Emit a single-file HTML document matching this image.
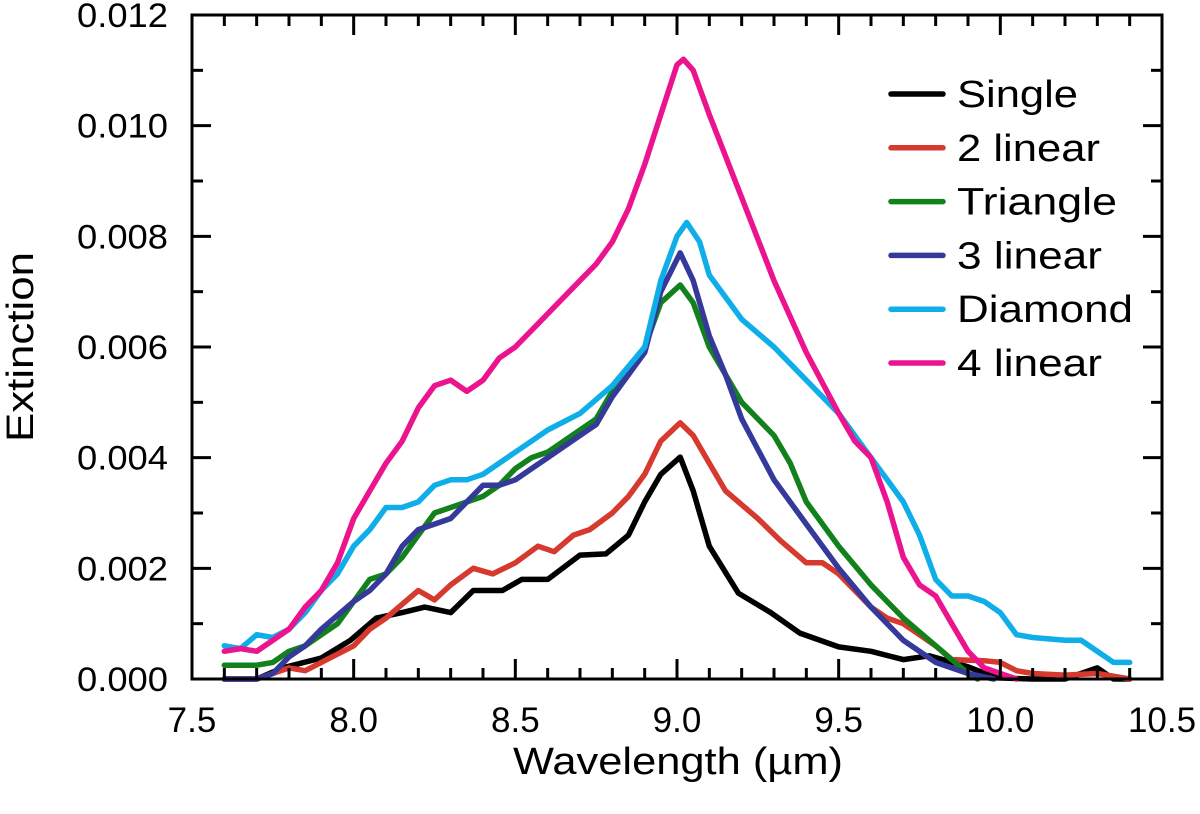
<!DOCTYPE html>
<html><head><meta charset="utf-8"><style>
html,body{margin:0;padding:0;background:#fff;}
svg{display:block;font-family:"Liberation Sans",Arial,sans-serif;}
</style></head><body>
<svg id="chart" width="1200" height="814" viewBox="0 0 1200 814" xmlns="http://www.w3.org/2000/svg">
<g id="plot"></g>
</svg>
<script>
const xTicks=[7.5,8.0,8.5,9.0,9.5,10.0,10.5];
const xTickLabels=["7.5","8.0","8.5","9.0","9.5","10.0","10.5"];
const yTicks=[0,0.002,0.004,0.006,0.008,0.010,0.012];
const yTickLabels=["0.000","0.002","0.004","0.006","0.008","0.010","0.012"];
const seriesNames=["Single","2 linear","Triangle","3 linear","Diamond","4 linear"];
const seriesColors=["#000000","#d63a2f","#12811c","#35399a","#10aee8","#ec138e"];
const singleX=[7.6,7.7,7.78,7.9,7.99,8.07,8.15,8.22,8.3,8.37,8.46,8.52,8.6,8.7,8.78,8.85,8.9,8.95,9.01,9.05,9.1,9.19,9.29,9.38,9.5,9.6,9.7,9.78,9.9,9.99,10.1,10.2,10.3,10.35,10.4];
const singleY=[0,0,0.0002,0.00038,0.0007,0.0011,0.0012,0.0013,0.0012,0.0016,0.0016,0.0018,0.0018,0.00224,0.00226,0.0026,0.0032,0.0037,0.00401,0.0034,0.0024,0.00155,0.0012,0.00083,0.00058,0.0005,0.00035,0.00042,0.00022,0.00002,0,0,0.0002,0,0];
const linear2X=[7.6,7.7,7.8,7.85,7.9,8.0,8.05,8.1,8.2,8.25,8.3,8.37,8.43,8.5,8.57,8.62,8.68,8.73,8.8,8.85,8.9,8.95,9.01,9.05,9.1,9.15,9.25,9.32,9.4,9.45,9.5,9.6,9.65,9.7,9.8,9.85,9.95,10.0,10.05,10.1,10.2,10.3,10.4];
const linear2Y=[0,0,0.0002,0.00015,0.0003,0.0006,0.0009,0.0011,0.0016,0.00143,0.0017,0.002,0.0019,0.0021,0.0024,0.0023,0.0026,0.0027,0.003,0.0033,0.0037,0.0043,0.00463,0.0044,0.0039,0.0034,0.0029,0.0025,0.0021,0.0021,0.0019,0.0013,0.0011,0.001,0.0006,0.00035,0.00033,0.0003,0.00015,0.0001,0.00007,0.0001,0];
const triangleX=[7.6,7.7,7.75,7.8,7.85,7.9,7.95,8.0,8.05,8.1,8.15,8.2,8.25,8.3,8.4,8.45,8.5,8.55,8.6,8.7,8.75,8.8,8.9,8.95,9.01,9.05,9.1,9.2,9.3,9.35,9.4,9.5,9.6,9.7,9.8,9.9,9.93];
const triangleY=[0.00025,0.00025,0.0003,0.0005,0.0006,0.0008,0.001,0.0014,0.0018,0.0019,0.0022,0.0026,0.003,0.0031,0.0033,0.0035,0.0038,0.004,0.0041,0.0045,0.0047,0.0052,0.006,0.0068,0.00712,0.0068,0.006,0.005,0.0044,0.0039,0.0032,0.0024,0.0017,0.0011,0.0006,0.0001,0];
const linear3X=[7.6,7.7,7.75,7.8,7.85,7.9,8.0,8.05,8.1,8.15,8.2,8.25,8.3,8.35,8.4,8.45,8.5,8.55,8.6,8.65,8.7,8.75,8.8,8.9,8.95,9.01,9.05,9.1,9.15,9.2,9.3,9.4,9.5,9.6,9.7,9.8,9.9,9.98];
const linear3Y=[0,0,0.0001,0.0004,0.0006,0.0009,0.0014,0.0016,0.0019,0.0024,0.0027,0.0028,0.0029,0.0032,0.0035,0.0035,0.0036,0.0038,0.004,0.0042,0.0044,0.0046,0.0051,0.0059,0.007,0.0077,0.0072,0.0062,0.0055,0.0047,0.0036,0.0028,0.002,0.0013,0.0007,0.0003,0.0001,0];
const diamondX=[7.6,7.65,7.7,7.75,7.8,7.85,7.9,7.95,8.0,8.05,8.1,8.15,8.2,8.25,8.3,8.35,8.4,8.45,8.5,8.55,8.6,8.7,8.8,8.9,8.95,9.0,9.03,9.07,9.1,9.2,9.3,9.4,9.45,9.5,9.6,9.65,9.7,9.75,9.8,9.85,9.9,9.95,10.0,10.05,10.1,10.2,10.25,10.3,10.35,10.4];
const diamondY=[0.0006,0.00055,0.0008,0.00075,0.0009,0.0012,0.0016,0.0019,0.0024,0.0027,0.0031,0.0031,0.0032,0.0035,0.0036,0.0036,0.0037,0.0039,0.0041,0.0043,0.0045,0.0048,0.0053,0.006,0.0072,0.008,0.00825,0.0079,0.0073,0.0065,0.006,0.0054,0.0051,0.0048,0.004,0.0036,0.0032,0.0026,0.0018,0.0015,0.0015,0.0014,0.0012,0.0008,0.00075,0.0007,0.0007,0.0005,0.0003,0.0003];
const linear4X=[7.6,7.65,7.7,7.75,7.8,7.85,7.9,7.95,8.0,8.05,8.1,8.15,8.2,8.25,8.3,8.35,8.4,8.45,8.5,8.55,8.6,8.65,8.7,8.75,8.8,8.85,8.9,8.95,9.0,9.02,9.05,9.1,9.2,9.3,9.4,9.5,9.55,9.6,9.65,9.7,9.75,9.8,9.85,9.9,9.95,10.0,10.05];
const linear4Y=[0.0005,0.00055,0.0005,0.0007,0.0009,0.0013,0.0016,0.0021,0.0029,0.0034,0.0039,0.0043,0.0049,0.0053,0.0054,0.0052,0.0054,0.0058,0.006,0.0063,0.0066,0.0069,0.0072,0.0075,0.0079,0.0085,0.0093,0.0102,0.0111,0.0112,0.011,0.0102,0.0087,0.0072,0.0059,0.0048,0.0043,0.004,0.0032,0.0022,0.0017,0.0015,0.001,0.0005,0.0002,0.0001,0];
const allX=[singleX,linear2X,triangleX,linear3X,diamondX,linear4X];
const allY=[singleY,linear2Y,triangleY,linear3Y,diamondY,linear4Y];
const legendWidths=[121,143,160,145,176,145];

const L=192,R=1162,T=15,B=679;
const xMin=7.5,xMax=10.5,yMin=0,yMax=0.012;
function sx(v){return L+(v-xMin)/(xMax-xMin)*(R-L);}
function sy(v){return B-(v-yMin)/(yMax-yMin)*(B-T);}
const NS="http://www.w3.org/2000/svg";
const g=document.getElementById('plot');
function mk(tag,attrs,parent){const e=document.createElementNS(NS,tag);for(const k in attrs)e.setAttribute(k,attrs[k]);(parent||g).appendChild(e);return e;}

const sg=mk('g',{});


for(let s=0;s<allX.length;s++){
  let d='';
  for(let i=0;i<allX[s].length;i++){d+=(i?'L':'M')+sx(allX[s][i]).toFixed(1)+','+sy(allY[s][i]).toFixed(1);}
  const p=mk('path',{d:d,fill:'none',stroke:seriesColors[s],'stroke-width':5.5,'stroke-linejoin':'round','stroke-linecap':'round'},sg);
  
  
}
const fr=mk('rect',{x:L,y:T,width:R-L,height:B-T,fill:'none',stroke:'#000','stroke-width':3});


for(let v=7.6;v<10.45;v+=0.1){
  const X=sx(v);const major=Math.abs(v*2-Math.round(v*2))<1e-6;const len=major?20:11;
  mk('line',{x1:X,y1:B,x2:X,y2:B-len,stroke:'#000','stroke-width':3});
  mk('line',{x1:X,y1:T,x2:X,y2:T+len,stroke:'#000','stroke-width':3});
}
for(let i=0;i<xTicks.length;i++){
  const t=mk('text',{x:sx(xTicks[i]),y:732,'font-size':35,'text-anchor':'middle',fill:'#000'});
  t.textContent=xTickLabels[i];
  
  
}
for(let k=1;k<12;k++){
  const v=k*0.001;const Y=sy(v);const len=(k%2==0)?19:11;
  mk('line',{x1:L,y1:Y,x2:L+len,y2:Y,stroke:'#000','stroke-width':3});
  mk('line',{x1:R,y1:Y,x2:R-len,y2:Y,stroke:'#000','stroke-width':3});
}
for(let i=0;i<yTicks.length;i++){
  const t=mk('text',{x:77,y:sy(yTicks[i])+12,'font-size':34,textLength:91,lengthAdjust:'spacingAndGlyphs',fill:'#000'});
  t.textContent=yTickLabels[i];
  
  
}
const xt=mk('text',{x:513,y:774,'font-size':38,textLength:330,lengthAdjust:'spacingAndGlyphs',fill:'#000'});
xt.textContent='Wavelength (\u00b5m)';


const yt=mk('text',{x:-95,y:0,'font-size':38,textLength:190,lengthAdjust:'spacingAndGlyphs',fill:'#000',transform:'translate(33,347) rotate(-90)'});
yt.textContent='Extinction';


const lg=mk('g',{});


for(let s=0;s<seriesNames.length;s++){
  const Y=94+s*53.8;
  const ln=mk('line',{x1:891,y1:Y,x2:943,y2:Y,stroke:seriesColors[s],'stroke-width':5.5,'stroke-linecap':'round'},lg);
  
  
  const t=mk('text',{x:957,y:Y+13,'font-size':38,textLength:legendWidths[s],lengthAdjust:'spacingAndGlyphs',fill:'#000'},lg);
  t.textContent=seriesNames[s];
  
  
}
</script>
</body></html>
